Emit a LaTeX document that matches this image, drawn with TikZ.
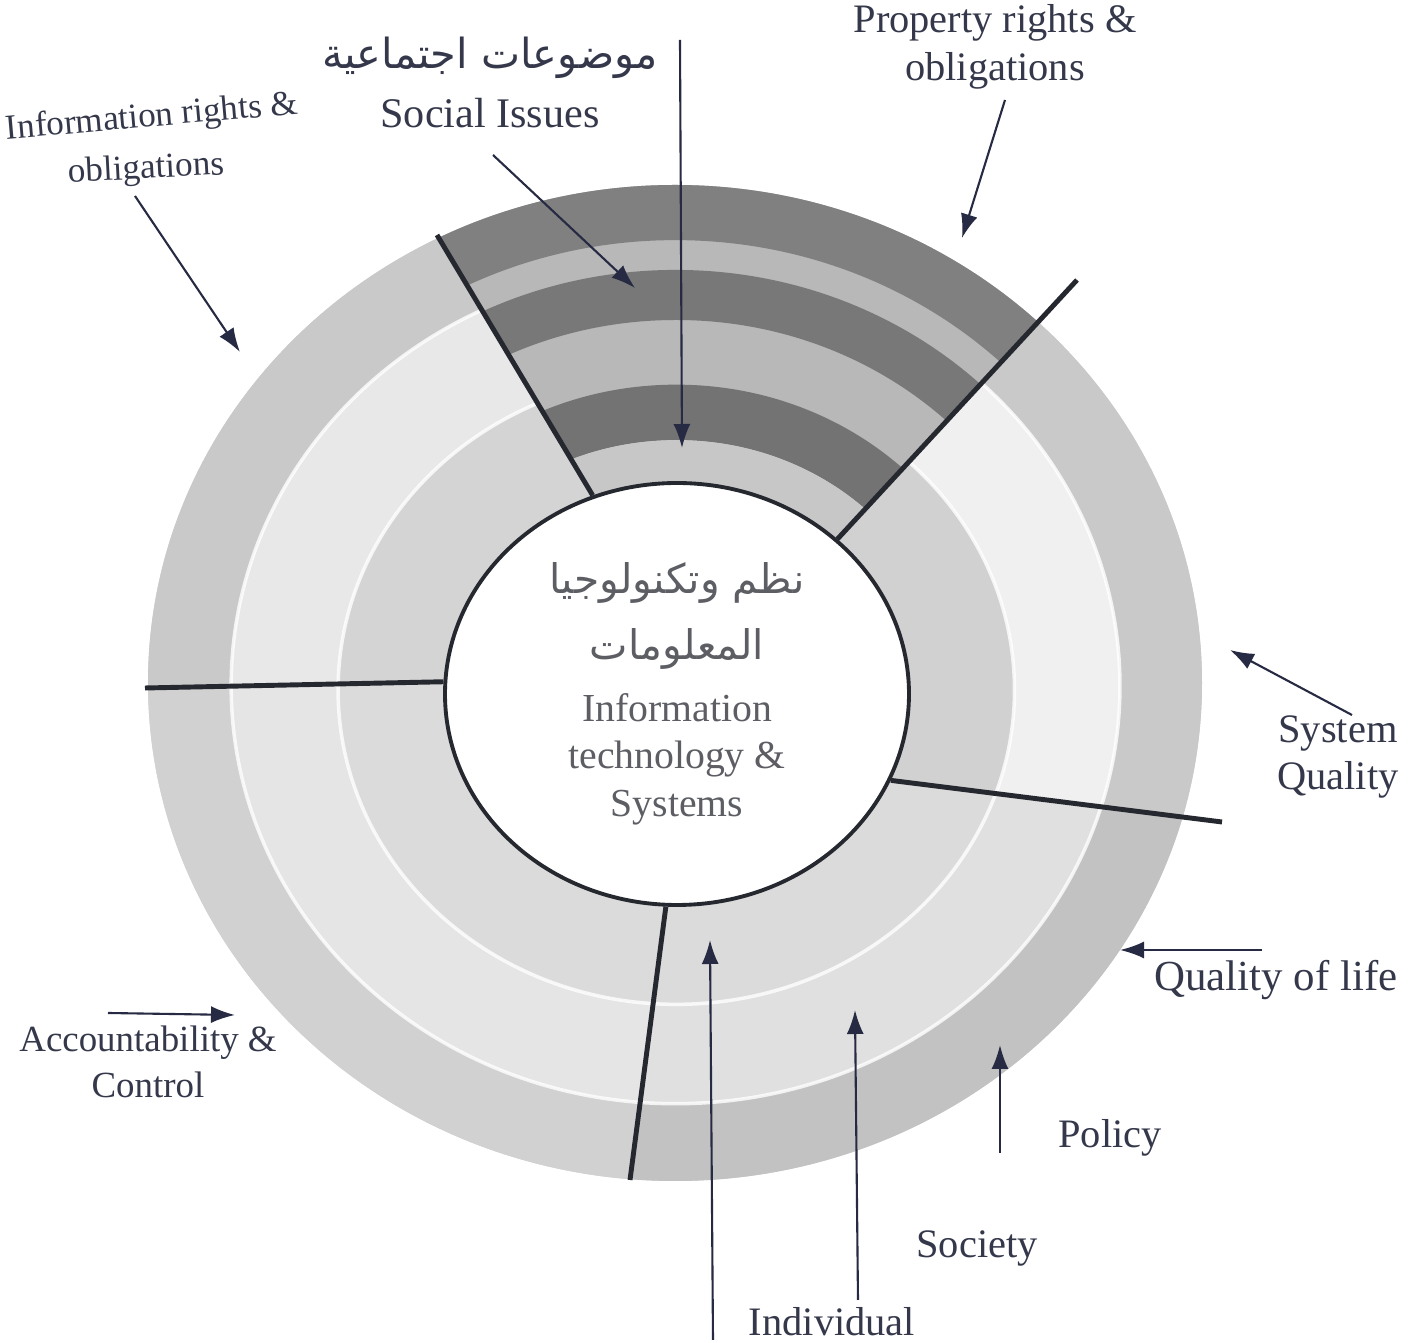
\documentclass[tikz,border=0pt]{standalone}
\usepackage{fontspec}
\setmainfont{Liberation Serif}
\newfontfamily\arabicfont[Script=Arabic]{DejaVu Sans}
\TeXXeTstate=1
\usetikzlibrary{arrows.meta,shapes.geometric,backgrounds,calc}

\definecolor{labelcol}{RGB}{52,56,74}
\definecolor{arrowcol}{RGB}{38,42,66}
\definecolor{hubtext}{RGB}{92,94,100}
\definecolor{rimline}{RGB}{38,40,48}

\tikzset{
  lbl/.style={text=labelcol, font=\fontsize{11.5}{13.5}\selectfont, align=center, inner sep=0pt},
  pointer/.style={-{Latex[length=2.4mm,width=1.7mm]}, draw=arrowcol, line width=0.6pt},
  spoke/.style={draw=rimline, line width=1.4pt},
  ringpath/.style={insert path={({6.77-0.02*#1},{-6.94+0.11*#1}) ellipse [x radius={2.32+2.95*#1}, y radius={2.11+2.87*#1}]}},
}

\begin{document}
\begin{tikzpicture}
  \useasboundingbox (0,0) rectangle (14.19,-13.43);

  % hub
  \node[ellipse, draw=rimline, line width=1.1pt, fill=white, minimum width=4.64cm,
        minimum height=4.22cm, inner sep=0pt, align=center, text=hubtext,
        font=\fontsize{11.3}{13.6}\selectfont] (hub) at (6.77,-6.94)
    {{\arabicfont\fontsize{11.6}{14}\selectfont\beginR نظم وتكنولوجيا\endR}\\[5pt]
     {\arabicfont\fontsize{11.6}{14}\selectfont\beginR المعلومات\endR}\\[4pt]
     Information\\technology \&\\Systems};

  \coordinate (i1) at (hub.113);
  \coordinate (i2) at (hub.44);
  \coordinate (i3) at (hub.177);
  \coordinate (i4) at (hub.-22);
  \coordinate (i5) at (hub.-93);
  \coordinate (o1) at (4.37,-2.35);
  \coordinate (o2) at (10.77,-2.80);
  \coordinate (o3) at (1.45,-6.88);
  \coordinate (o4) at (12.22,-8.22);
  \coordinate (o5) at (6.30,-11.80);

  \begin{scope}[on background layer]
    \fill[black!18, ringpath=1];
    % social issues sector
    \begin{scope}
      \clip (i1) -- ($(i1)!3!(o1)$) -- ($(i2)!3!(o2)$) -- (i2) -- cycle;
      \fill[black!28, ringpath=1];
      \fill[black!50, even odd rule, ringpath=1, ringpath=0.815];
      \fill[black!53, even odd rule, ringpath=0.715, ringpath=0.547];
      \fill[black!55, even odd rule, ringpath=0.33, ringpath=0.144];
      \fill[black!22, ringpath=0.144];
    \end{scope}
    \foreach \a/\b/\co/\cm/\ci in {3/1/black!21/black!9/black!17, 2/4/black!21/black!6/black!18,
                                   4/5/black!24/black!12/black!14, 5/3/black!18/black!10/black!14} {
      \begin{scope}
        \clip (i\a) -- ($(i\a)!3!(o\a)$) -- ($(i\b)!3!(o\b)$) -- (i\b) -- cycle;
        \fill[\co, ringpath=1];
        \fill[\cm, ringpath=0.72];
        \fill[\ci, ringpath=0.36];
        \draw[white, opacity=0.8, line width=1pt, ringpath=0.72, ringpath=0.36];
      \end{scope}
    }
  \end{scope}

  \draw[spoke] (i1) -- (o1);
  \draw[spoke] (i2) -- (o2);
  \draw[spoke] (i3) -- (o3);
  \draw[spoke] (i4) -- (o4);
  \draw[spoke] (i5) -- (o5);

  % labels
  \node[lbl, rotate=5, font=\fontsize{10}{12}\selectfont] (inforights) at (1.52,-1.18) {Information rights \&};
  \node[lbl, rotate=3, font=\fontsize{10}{12}\selectfont] (infoobl) at (1.46,-1.70) {obligations};
  \node[lbl, font=\arabicfont\fontsize{11.8}{14}\selectfont] (socialar) at (4.90,-0.58) {\beginR موضوعات اجتماعية\endR};
  \node[lbl, font=\fontsize{12}{14}\selectfont] (social) at (4.90,-1.13) {Social Issues};
  \node[lbl] (property) at (9.95,-0.47) {Property rights \&\\obligations};
  \node[lbl] (sysquality) at (13.38,-7.57) {System\\Quality};
  \node[lbl, font=\fontsize{12.2}{15}\selectfont] (qualitylife) at (12.76,-9.80) {Quality of life};
  \node[lbl] (policy) at (11.10,-11.38) {Policy};
  \node[lbl] (society) at (9.77,-12.48) {Society};
  \node[lbl] (individual) at (8.32,-13.22) {Individual};
  \node[lbl, font=\fontsize{10.5}{13}\selectfont] (account) at (1.48,-10.62) {Accountability \&\\Control};

  % arrows
  \coordinate (t1) at (1.35,-1.96);   \coordinate (h1) at (2.40,-3.52);
  \coordinate (t2) at (4.93,-1.55);   \coordinate (h2) at (6.35,-2.88);
  \coordinate (t3) at (6.80,-0.40);   \coordinate (h3) at (6.82,-4.48);
  \coordinate (t4) at (10.05,-1.00);  \coordinate (h4) at (9.62,-2.38);
  \coordinate (t5) at (13.52,-7.15);  \coordinate (h5) at (12.30,-6.50);
  \coordinate (t6) at (12.62,-9.50);  \coordinate (h6) at (11.20,-9.50);
  \coordinate (t7) at (10.00,-11.53); \coordinate (h7) at (10.00,-10.45);
  \coordinate (t8) at (8.58,-13.00);  \coordinate (h8) at (8.55,-10.10);
  \coordinate (t9) at (7.13,-13.40);  \coordinate (h9) at (7.10,-9.40);
  \coordinate (t10) at (1.08,-10.13); \coordinate (h10) at (2.35,-10.15);

  \foreach \k in {1,...,10}
    \draw[pointer] (t\k) -- (h\k);
\end{tikzpicture}
\end{document}
